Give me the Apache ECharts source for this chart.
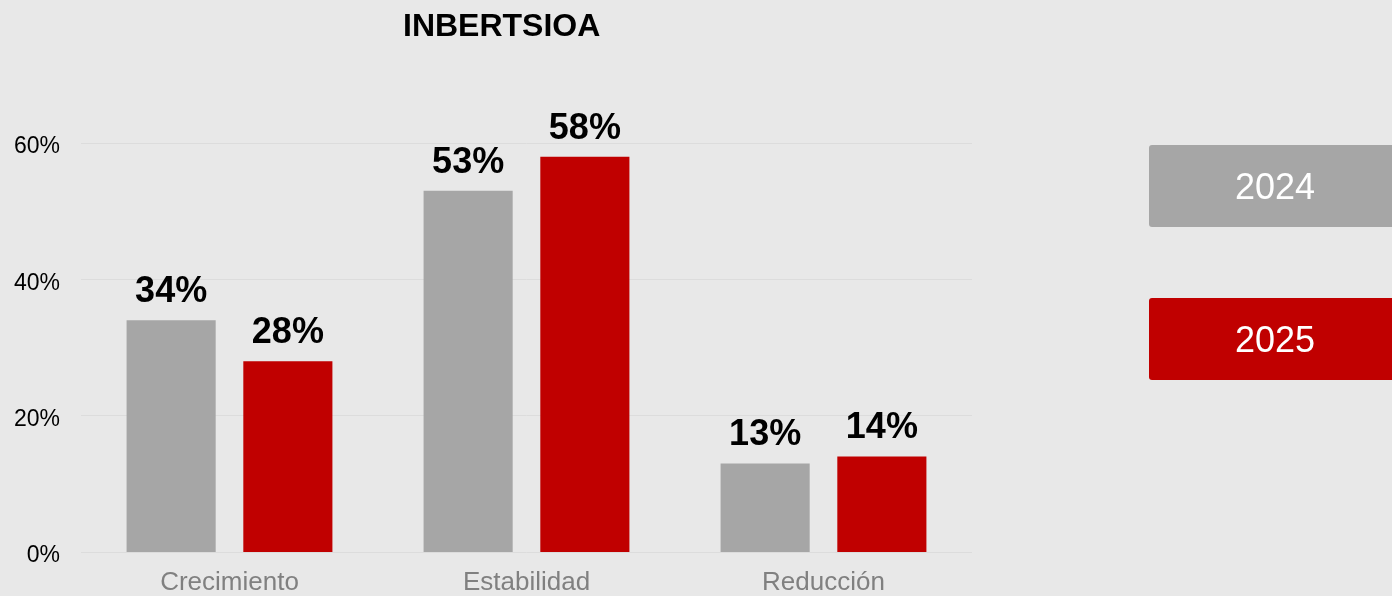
<!DOCTYPE html>
<html>
<head>
<meta charset="utf-8">
<script src="https://cdn.jsdelivr.net/npm/echarts@6/dist/echarts.min.js"></script>
<style>
  html, body { margin: 0; padding: 0; background: #e8e8e8; }
  #chart { width: 1392px; height: 596px; }
</style>
</head>
<body>
<div id="chart"></div>
<script>
// datos
const categories = ['Crecimiento', 'Estabilidad', 'Reducción'];
const years = ['2024', '2025'];
const values2024 = [34, 53, 13];
const values2025 = [28, 58, 14];
const yearColors = ['#a6a6a6', '#c00000'];

const chart = echarts.init(document.getElementById('chart'));

const labelStyle = {
  show: true,
  position: 'top',
  distance: 10,
  formatter: '{c}%',
  color: '#000',
  fontFamily: 'Liberation Sans, Arial',
  fontWeight: 'bold',
  fontSize: 36
};

// cajas de leyenda a la derecha
const legendBoxes = [];
years.forEach(function (y, i) {
  legendBoxes.push({
    type: 'rect',
    left: 1149,
    top: 145 + i * 153,
    shape: { width: 260, height: 82, r: 3 },
    style: { fill: yearColors[i] }
  });
  legendBoxes.push({
    type: 'text',
    left: 1235,
    top: 171 + i * 153,
    style: {
      text: y,
      fill: '#fff',
      font: '36px "Liberation Sans", Arial'
    }
  });
});

const option = {
  backgroundColor: '#e8e8e8',
  animation: false,
  title: {
    text: 'INBERTSIOA',
    left: 398,
    top: 6,
    textStyle: {
      color: '#000',
      fontFamily: 'Liberation Sans, Arial',
      fontWeight: 'bold',
      fontSize: 32
    }
  },
  grid: {
    left: 81,
    right: 420,
    top: 143,
    bottom: 42
  },
  xAxis: {
    type: 'category',
    data: categories,
    axisLine: { show: false },
    axisTick: { show: false },
    axisLabel: {
      color: '#808080',
      fontFamily: 'Liberation Sans, Arial',
      fontSize: 26,
      margin: 18
    }
  },
  yAxis: {
    type: 'value',
    min: 0,
    max: 60,
    interval: 20,
    axisLine: { show: false },
    axisTick: { show: false },
    axisLabel: {
      formatter: '{p|{value}%}',
      margin: 21,
      rich: {
        p: {
          color: '#000',
          fontFamily: 'Liberation Sans, Arial',
          fontSize: 23,
          padding: [8, 0, 0, 0]
        }
      }
    },
    splitLine: { lineStyle: { color: '#dcdcdc', width: 1 } }
  },
  series: [
    {
      name: years[0],
      type: 'bar',
      data: values2024,
      barWidth: '30%',
      barGap: '31%',
      itemStyle: { color: yearColors[0] },
      label: labelStyle
    },
    {
      name: years[1],
      type: 'bar',
      data: values2025,
      barWidth: '30%',
      barGap: '31%',
      itemStyle: { color: yearColors[1] },
      label: labelStyle
    }
  ],
  graphic: legendBoxes
};

chart.setOption(option);
</script>
</body>
</html>
